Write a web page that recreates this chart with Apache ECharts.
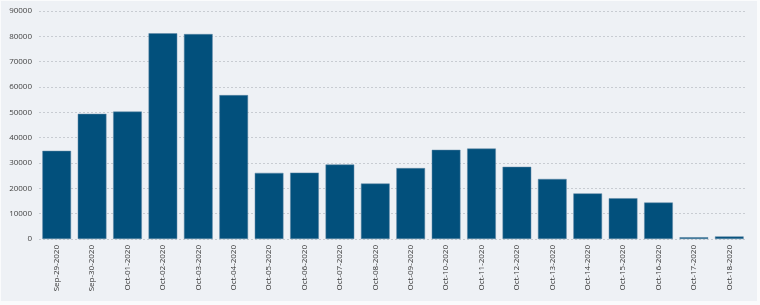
<!DOCTYPE html>
<html>
<head>
<meta charset="utf-8">
<script src="https://cdn.jsdelivr.net/npm/echarts@6/dist/echarts.min.js"></script>
<style>
html,body{margin:0;padding:0;background:#fafbfc;}
#c{position:absolute;left:1px;top:1px;width:756px;height:300px;}
</style>
</head>
<body>
<div id="c"></div>
<script>
const categories = ["Sep-29-2020","Sep-30-2020","Oct-01-2020","Oct-02-2020","Oct-03-2020","Oct-04-2020","Oct-05-2020","Oct-06-2020","Oct-07-2020","Oct-08-2020","Oct-09-2020","Oct-10-2020","Oct-11-2020","Oct-12-2020","Oct-13-2020","Oct-14-2020","Oct-15-2020","Oct-16-2020","Oct-17-2020","Oct-18-2020"];
const values = [34800,49400,50300,81200,80900,56800,26100,26200,29400,21900,28000,35200,35700,28500,23700,18000,16100,14400,700,1000];
const yTicks = [0,10000,20000,30000,40000,50000,60000,70000,80000,90000];

const chart = echarts.init(document.getElementById('c'));
chart.setOption({
  backgroundColor: '#eef1f5',
  animation: false,
  grid: {left: 38, right: 10, top: 10, bottom: 62, containLabel: false},
  xAxis: {
    type: 'category',
    data: categories,
    axisLine: {show: false},
    axisTick: {show: false},
    axisLabel: {rotate: 90, fontSize: 8, color: '#333', margin: 6, fontFamily: 'Open Sans'}
  },
  yAxis: {
    type: 'value',
    min: yTicks[0],
    max: yTicks[yTicks.length-1],
    interval: 10000,
    axisLine: {show: false},
    axisTick: {show: false},
    axisLabel: {fontSize: 8, color: '#444', margin: 7, fontFamily: 'Open Sans', formatter: v => String(v)},
    splitLine: {lineStyle: {type: [2,2], color: '#c8ccd2', width: 1}}
  },
  series: [{
    type: 'bar',
    data: values,
    barCategoryGap: '19%',
    itemStyle: {color: '#02507c', borderColor: '#5f87a5', borderWidth: 0.5}
  }]
});
</script>
</body>
</html>
